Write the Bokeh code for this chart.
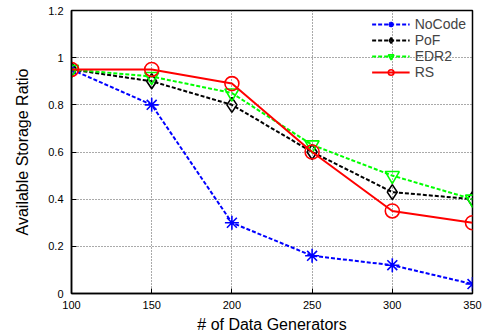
from bokeh.plotting import figure
from bokeh.models import FixedTicker, Legend, LegendItem
from bokeh.embed import file_html
from bokeh.resources import INLINE

generators = [100, 150, 200, 250, 300, 350]
nocode = [0.95, 0.80, 0.30, 0.16, 0.12, 0.04]
pof = [0.95, 0.90, 0.80, 0.60, 0.43, 0.40]
edr2 = [0.95, 0.92, 0.85, 0.63, 0.50, 0.40]
rs = [0.95, 0.95, 0.89, 0.60, 0.35, 0.30]

x_ticks = [100, 150, 200, 250, 300, 350]
y_ticks = [0, 0.2, 0.4, 0.6, 0.8, 1, 1.2]
y_tick_labels = ["0", "0.2", "0.4", "0.6", "0.8", "1", "1.2"]

FONT = "Liberation Sans"

p = figure(width=484, height=335, x_range=(100, 350), y_range=(0, 1.2),
           output_backend="svg", toolbar_location=None,
           min_border_left=71, min_border_right=12, min_border_top=10, min_border_bottom=41)

p.outline_line_color = "black"
p.outline_line_width = 1.5
p.background_fill_color = "white"

for ax in (p.xaxis[0], p.yaxis[0]):
    ax.axis_line_color = "black"
    ax.axis_line_width = 1.5
    ax.major_tick_in = 5
    ax.major_tick_out = 0
    ax.minor_tick_line_color = None
    ax.major_tick_line_color = "black"
    ax.major_label_text_font = FONT
    ax.major_label_text_font_size = "11px"
    ax.major_label_text_color = "black"
    ax.axis_label_text_font = FONT
    ax.axis_label_text_font_size = "16px"
    ax.axis_label_text_font_style = "normal"
    ax.axis_label_text_color = "black"

p.xaxis.ticker = FixedTicker(ticks=x_ticks)
p.yaxis.ticker = FixedTicker(ticks=y_ticks)
p.yaxis.major_label_overrides = dict(zip(y_ticks, y_tick_labels))
p.xaxis.axis_label = "# of Data Generators"
p.yaxis.axis_label = "Available Storage Ratio"
p.xaxis.major_label_standoff = 7
p.yaxis.major_label_standoff = 8
p.xaxis.axis_label_standoff = 4
p.yaxis.axis_label_standoff = 14

for g in (p.xgrid[0], p.ygrid[0]):
    g.grid_line_color = "#555555"
    g.grid_line_dash = "1 2"
    g.grid_line_width = 1

series = [
    ("NoCode", nocode, "#0000ff", "4 2", "asterisk"),
    ("PoF", pof, "#000000", "4 2", "diamond"),
    ("EDR2", edr2, "#00ff00", "4 2", "inverted_triangle"),
    ("RS", rs, "#ff0000", "solid", "circle"),
]

items = []
for name, vals, col, dash, marker in series:
    ln = p.line(generators, vals, line_color=col, line_width=2, line_dash=dash)
    size = 15 if marker == "diamond" else 14
    sc = p.scatter(generators, vals, marker=marker, size=size, line_color=col,
                   fill_color=None, line_width=1.6)
    items.append(LegendItem(label=name, renderers=[ln, sc]))

legend = Legend(items=items, location="top_right")
legend.background_fill_alpha = 0
legend.border_line_color = None
legend.label_text_font = FONT
legend.label_text_font_size = "14px"
legend.glyph_width = 38
legend.glyph_height = 14
legend.label_height = 14
legend.spacing = 0
legend.padding = 4
legend.margin = 6
p.add_layout(legend)

open("out.html", "w").write(file_html(p, INLINE))
